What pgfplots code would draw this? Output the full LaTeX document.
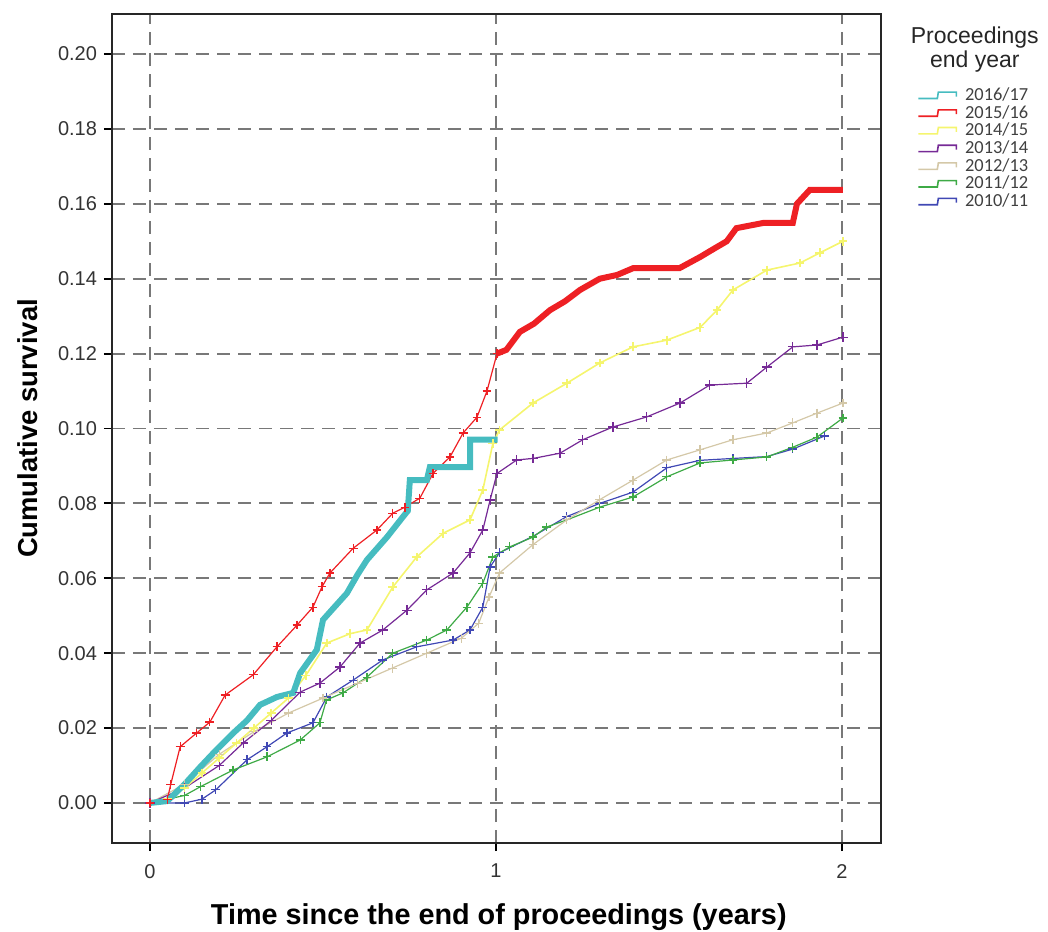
\documentclass[border=0pt]{standalone}
\usepackage{fontspec}
\setmainfont{Liberation Sans}
\newfontfamily\carlito{Carlito}
\usepackage{pgfplots}
\pgfplotsset{compat=1.18}

\definecolor{c1617}{RGB}{70,188,192}
\definecolor{c1516}{RGB}{238,32,36}
\definecolor{c1415}{RGB}{245,245,110}
\definecolor{c1314}{RGB}{118,42,150}
\definecolor{c1213}{RGB}{212,200,168}
\definecolor{c1112}{RGB}{62,170,70}
\definecolor{c1011}{RGB}{64,72,180}
\definecolor{gridgray}{RGB}{120,120,120}

\begin{document}
\begin{tikzpicture}
\begin{axis}[
    scale only axis,
    width=384.5pt, height=414.5pt,
    xmin=-0.110, xmax=2.113,
    ymin=-0.0107, ymax=0.2107,
    xtick={0,1,2},
    ytick={0,0.02,...,0.201},
    yticklabel style={/pgf/number format/fixed, /pgf/number format/fixed zerofill, /pgf/number format/precision=2},
    xticklabel style={yshift=-3pt},
    /pgf/number format/assume math mode=true,
    tick label style={font=\fontsize{10}{12}\selectfont, text=black!80},
    tick align=outside, tick pos=left,
    major tick length=4pt,
    every tick/.style={black, line width=0.9pt},
    axis line style={black!85, line width=1pt},
    grid=major,
    major grid style={gridgray, line width=0.9pt, dash pattern=on 6.5pt off 4pt},
    xlabel={Time since the end of proceedings (years)},
    ylabel={Cumulative survival},
    xlabel style={font=\bfseries\fontsize{14.4}{16}\selectfont, at={(axis description cs:0.503,-0.0989)}, anchor=base},
    ylabel style={font=\bfseries\fontsize{13.7}{15}\selectfont, at={(axis description cs:-0.0975,0.5)}, anchor=base},
    reverse legend,
    legend style={draw=none, fill=none, at={(1.047,0.912)}, anchor=north west,
        font=\carlito\fontsize{9.2}{10}\selectfont, text=black!75,
        inner sep=0pt, row sep=0.85pt, column sep=3.5pt,
        nodes={inner sep=0.5pt, text height=6pt, text depth=1pt}},
    legend cell align=left,
    legend image code/.code={
        \draw[#1, line width=0.8pt, mark=none] (0pt,-1.6pt) -- (9.5pt,-1.6pt) -- (10pt,1.6pt) -- (19pt,1.6pt) -- (19pt,-0.6pt);
    },
]

% 2010/11
\addplot[c1011, line width=0.6pt, mark=+, mark size=2.2pt] coordinates {
(0,0) (0.1,0.0) (0.15,0.001) (0.19,0.0035) (0.28,0.0115) (0.338,0.015) (0.396,0.0187)
(0.471,0.0214) (0.511,0.0283) (0.587,0.0328) (0.673,0.0382) (0.771,0.0417) (0.876,0.0435)
(0.925,0.0462) (0.962,0.0523) (0.983,0.063) (1.01,0.0668) (1.107,0.0712) (1.205,0.0765)
(1.30,0.080) (1.396,0.083) (1.494,0.0895) (1.59,0.0915) (1.685,0.092) (1.783,0.0925)
(1.858,0.0945) (1.95,0.098)
};
\addlegendentry{2010/11}

% 2011/12
\addplot[c1112, line width=0.6pt, mark=+, mark size=2.2pt] coordinates {
(0,0) (0.05,0.001) (0.1,0.002) (0.145,0.0043) (0.24,0.0088) (0.338,0.0123) (0.434,0.0168)
(0.491,0.0214) (0.51,0.0275) (0.558,0.0294) (0.627,0.0336) (0.702,0.040) (0.80,0.0435)
(0.858,0.0462) (0.916,0.0523) (0.962,0.0587) (0.991,0.0657) (1.04,0.0684) (1.107,0.0710)
(1.147,0.0737) (1.205,0.0756) (1.30,0.079) (1.396,0.0817) (1.494,0.0871) (1.59,0.0908)
(1.685,0.0916) (1.783,0.0924) (1.858,0.095) (1.928,0.0977) (2.003,0.1028)
};
\addlegendentry{2011/12}

% 2012/13
\addplot[c1213, line width=0.6pt, mark=+, mark size=2.2pt] coordinates {
(0,0) (0.1,0.005) (0.2,0.013) (0.3,0.019) (0.4,0.024) (0.5,0.028) (0.6,0.032) (0.7,0.036)
(0.8,0.040) (0.9,0.044) (0.95,0.048) (0.98,0.055) (1.01,0.0614) (1.107,0.069) (1.205,0.0756)
(1.30,0.081) (1.396,0.0862) (1.494,0.0916) (1.59,0.0943) (1.685,0.097) (1.783,0.0988)
(1.858,0.1015) (1.928,0.1041) (2.003,0.1068)
};
\addlegendentry{2012/13}

% 2013/14
\addplot[c1314, line width=0.6pt, mark=+, mark size=2.4pt] coordinates {
(0,0) (0.1,0.004) (0.2,0.010) (0.269,0.016) (0.35,0.022) (0.434,0.0296) (0.491,0.032)
(0.549,0.0363) (0.607,0.0427) (0.673,0.0462) (0.743,0.0515) (0.80,0.0569) (0.876,0.0614)
(0.925,0.0668) (0.962,0.0729) (0.983,0.0809) (1.003,0.088) (1.06,0.0916) (1.107,0.0920)
(1.185,0.0934) (1.251,0.097) (1.338,0.1004) (1.436,0.1031) (1.532,0.1068) (1.618,0.1116)
(1.725,0.1121) (1.783,0.1164) (1.858,0.1218) (1.928,0.1223) (2.003,0.1244)
};
\addlegendentry{2013/14}

% 2014/15
\addplot[c1415, line width=0.8pt, mark=+, mark size=2.2pt] coordinates {
(0,0) (0.05,0.001) (0.1,0.004) (0.15,0.008) (0.2,0.012) (0.25,0.016) (0.3,0.02) (0.35,0.024)
(0.4,0.028) (0.45,0.034) (0.511,0.0427) (0.578,0.0452) (0.627,0.0462) (0.702,0.0577)
(0.771,0.0657) (0.847,0.072) (0.925,0.0756) (0.962,0.0836) (0.991,0.096) (1.01,0.0996)
(1.107,0.1068) (1.205,0.1121) (1.30,0.1175) (1.396,0.1218) (1.494,0.1236) (1.59,0.127)
(1.639,0.1316) (1.685,0.137) (1.783,0.1423) (1.879,0.1442) (1.936,0.1469) (2.003,0.150)
};
\addlegendentry{2014/15}

% 2015/16
\addplot[c1516, line width=0.6pt, mark=+, mark size=2.2pt] coordinates {
(0,0) (0.05,0.001) (0.06,0.005) (0.087,0.015) (0.135,0.0187) (0.173,0.0216) (0.217,0.0288)
(0.298,0.0342) (0.367,0.0417) (0.425,0.0475) (0.471,0.0523) (0.497,0.0577) (0.520,0.0614)
(0.587,0.068) (0.656,0.0729) (0.702,0.0774) (0.737,0.079) (0.780,0.0814) (0.818,0.088)
(0.867,0.0924) (0.905,0.0988) (0.945,0.103) (0.974,0.110) (1.003,0.120)
};
\addlegendentry{2015/16}
\addplot[c1516, line width=3pt, forget plot] coordinates {
(1.003,0.120) (1.03,0.121) (1.069,0.1258) (1.11,0.128) (1.156,0.1316) (1.2,0.134)
(1.243,0.137) (1.30,0.140) (1.35,0.141) (1.396,0.1428) (1.45,0.1428) (1.53,0.1428)
(1.59,0.1458) (1.63,0.148) (1.667,0.150) (1.695,0.1535) (1.773,0.1549) (1.858,0.1549)
(1.87,0.160) (1.907,0.1637) (2.003,0.1637)
};

% 2016/17
\addplot[c1617, line width=3pt] coordinates {
(0,0) (0.05,0.0005) (0.10,0.005) (0.145,0.0096) (0.19,0.014) (0.241,0.0187) (0.28,0.022)
(0.318,0.0262) (0.367,0.0283) (0.414,0.0294) (0.434,0.0347) (0.482,0.0409) (0.50,0.0489)
(0.53,0.052) (0.569,0.056) (0.60,0.061) (0.627,0.0649) (0.685,0.071) (0.731,0.0764)
(0.745,0.078) (0.751,0.0862) (0.80,0.0862) (0.809,0.0897) (0.925,0.0897) (0.925,0.097)
(1.005,0.097)
};
\addlegendentry{2016/17}

\coordinate (legtitle) at (rel axis cs:1.122,0.9566);
\end{axis}
\node[align=center, font=\fontsize{11.5}{12}\selectfont, text=black!85] at (legtitle) {Proceedings\\end year};
\pgfresetboundingbox
\useasboundingbox (-56pt,-44pt) rectangle (468pt,421.5pt);
\end{tikzpicture}
\end{document}
